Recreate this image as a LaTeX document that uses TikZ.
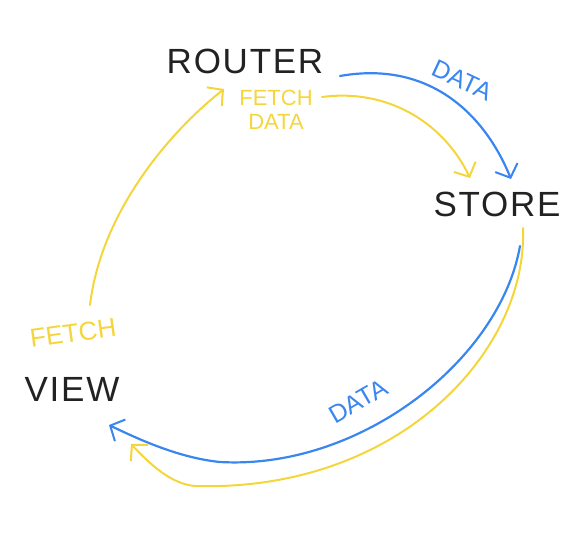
\documentclass[tikz,border=0pt]{standalone}
\usepackage{fontspec}
\setmainfont{Liberation Sans}
\usetikzlibrary{arrows.meta, positioning}
\definecolor{inkblue}{HTML}{3A86F0}
\definecolor{inkyellow}{HTML}{F4D63C}
\definecolor{inkblack}{HTML}{222222}
\newfontfamily\bigword[LetterSpace=5]{Liberation Sans}
\tikzset{
  >={Straight Barb[length=11pt, width=24pt, line width=2pt]},
  every picture/.style={line cap=round, line join=round},
  place/.style={inkblack, font=\bigword\fontsize{35}{35}\selectfont, inner sep=0pt},
  blueflow/.style={->, inkblue, line width=2.2pt},
  yellowflow/.style={->, inkyellow, line width=2pt},
  bluetag/.style={inkblue, font=\fontsize{25}{25}\selectfont, inner sep=0pt},
  yellowtag/.style={inkyellow, font=\fontsize{22}{24}\selectfont, inner sep=0pt, align=center},
}
\begin{document}
\begin{tikzpicture}[x=1pt, y=-1pt]
  \useasboundingbox (0,0) rectangle (587,539);
  % ---------------- the three places
  \node[place] (router) at (245,61) {ROUTER};
  \node[place] (store) at (497,204) {STORE};
  \node[place] (view) at (72,389) {VIEW};
  % ---------------- labels on the flows
  \node[yellowtag] (fetchdata) at (276,110) {FETCH\\DATA};
  \node[yellowtag, font=\fontsize{26}{26}\selectfont, rotate=8] (fetch) at (73,333) {FETCH};
  \node[bluetag, rotate=-25] (datatop) at (462,80) {DATA};
  \node[bluetag, rotate=30] (databottom) at (358,401) {DATA};
  % ---------------- end points of the strokes
  \coordinate (rb) at (340,76);
  \coordinate (ry) at (322,97);
  \coordinate (sb) at (511,179);
  \coordinate (sy) at (470,178);
  \coordinate (sbout) at (520,246);
  \coordinate (syout) at (523,228);
  \coordinate (vb) at (109,425);
  \coordinate (vy) at (131,444);
  \coordinate (vyout) at (90,305);
  \coordinate (ryin) at (224,89);
  % router -> store
  \draw[blueflow] (rb) .. controls (430,60) and (485,115) .. (sb);
  \draw[yellowflow] (ry) .. controls (390,88) and (445,125) .. (sy);
  % store -> view
  \draw[blueflow] (sbout) .. controls (500,360) and (360,470) .. (220,462)
    .. controls (180,458) and (140,440) .. (vb);
  \draw[yellowflow] (syout) .. controls (528,350) and (400,492) .. (195,486)
    .. controls (170,484) and (148,462) .. (vy);
  % view -> router
  \draw[yellowflow] (vyout) .. controls (100,220) and (160,140) .. (ryin);
\end{tikzpicture}
\end{document}
